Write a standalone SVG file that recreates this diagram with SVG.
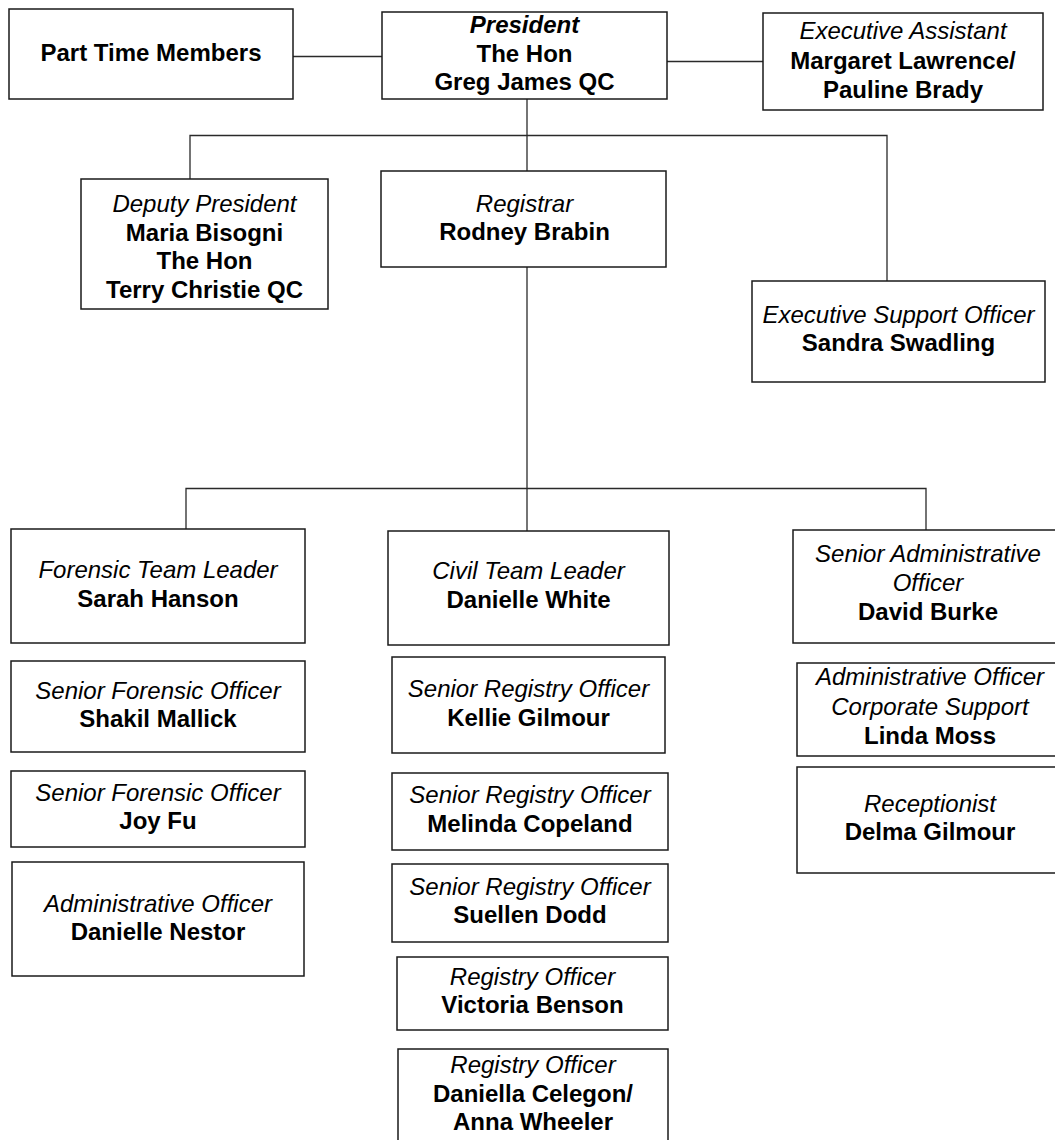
<svg xmlns="http://www.w3.org/2000/svg" width="1055" height="1140" viewBox="0 0 1055 1140">
<style>
.box{fill:#fff;stroke:#1a1a1a;stroke-width:1.5}
.ln{fill:none;stroke:#2a2a2a;stroke-width:1.3}
text{font-family:"Liberation Sans",Arial,Helvetica,sans-serif;font-size:24px;text-anchor:middle;fill:#000}
.b{font-weight:bold}
.i{font-style:italic}
</style>
<rect width="1055" height="1140" fill="#fff"/>
<g id="connectors">
<line class="ln" x1="293" y1="56.5" x2="382" y2="56.5"/>
<line class="ln" x1="667" y1="61.5" x2="763" y2="61.5"/>
<line class="ln" x1="527" y1="99" x2="527" y2="171"/>
<polyline class="ln" points="190,179 190,135.5 887,135.5 887,281"/>
<line class="ln" x1="527" y1="267" x2="527" y2="531"/>
<polyline class="ln" points="186,529 186,488.5 926,488.5 926,530"/>
</g>
<g id="part-time">
<rect class="box" x="9" y="9" width="284" height="90"/>
<text class="b" x="151" y="61">Part Time Members</text>
</g>
<g id="president">
<rect class="box" x="382" y="12" width="285" height="87"/>
<text class="b i" x="524.5" y="33">President</text>
<text class="b" x="524.5" y="62">The Hon</text>
<text class="b" x="524.5" y="90">Greg James QC</text>
</g>
<g id="executive-assistant">
<rect class="box" x="763" y="13" width="280" height="97"/>
<text class="i" x="903" y="39">Executive Assistant</text>
<text class="b" x="903" y="68.5">Margaret Lawrence/</text>
<text class="b" x="903" y="98">Pauline Brady</text>
</g>
<g id="deputy-president">
<rect class="box" x="81" y="179" width="247" height="130"/>
<text class="i" x="204.5" y="212">Deputy President</text>
<text class="b" x="204.5" y="240.5">Maria Bisogni</text>
<text class="b" x="204.5" y="269">The Hon</text>
<text class="b" x="204.5" y="297.5">Terry Christie QC</text>
</g>
<g id="registrar">
<rect class="box" x="381" y="171" width="285" height="96"/>
<text class="i" x="524.5" y="212">Registrar</text>
<text class="b" x="524.5" y="240">Rodney Brabin</text>
</g>
<g id="executive-support">
<rect class="box" x="752" y="281" width="293" height="101"/>
<text class="i" x="898.5" y="323">Executive Support Officer</text>
<text class="b" x="898.5" y="351">Sandra Swadling</text>
</g>
<g id="forensic-team-leader">
<rect class="box" x="11" y="529" width="294" height="114"/>
<text class="i" x="158" y="578">Forensic Team Leader</text>
<text class="b" x="158" y="607">Sarah Hanson</text>
</g>
<g id="civil-team-leader">
<rect class="box" x="388" y="531" width="281" height="114"/>
<text class="i" x="528.5" y="579">Civil Team Leader</text>
<text class="b" x="528.5" y="607.5">Danielle White</text>
</g>
<g id="senior-administrative-officer">
<rect class="box" x="793" y="530" width="270" height="113"/>
<text class="i" x="928" y="562">Senior Administrative</text>
<text class="i" x="928" y="591">Officer</text>
<text class="b" x="928" y="620">David Burke</text>
</g>
<g id="senior-forensic-1">
<rect class="box" x="11" y="661" width="294" height="91"/>
<text class="i" x="158" y="699">Senior Forensic Officer</text>
<text class="b" x="158" y="727">Shakil Mallick</text>
</g>
<g id="senior-forensic-2">
<rect class="box" x="11" y="771" width="294" height="76"/>
<text class="i" x="158" y="801">Senior Forensic Officer</text>
<text class="b" x="158" y="829">Joy Fu</text>
</g>
<g id="administrative-officer-forensic">
<rect class="box" x="12" y="862" width="292" height="114"/>
<text class="i" x="158" y="912">Administrative Officer</text>
<text class="b" x="158" y="940">Danielle Nestor</text>
</g>
<g id="senior-registry-1">
<rect class="box" x="392" y="657" width="273" height="96"/>
<text class="i" x="528.5" y="697">Senior Registry Officer</text>
<text class="b" x="528.5" y="726">Kellie Gilmour</text>
</g>
<g id="senior-registry-2">
<rect class="box" x="392" y="773" width="276" height="77"/>
<text class="i" x="530" y="803">Senior Registry Officer</text>
<text class="b" x="530" y="832">Melinda Copeland</text>
</g>
<g id="senior-registry-3">
<rect class="box" x="392" y="864" width="276" height="78"/>
<text class="i" x="530" y="895">Senior Registry Officer</text>
<text class="b" x="530" y="923">Suellen Dodd</text>
</g>
<g id="registry-officer-1">
<rect class="box" x="397" y="957" width="271" height="73"/>
<text class="i" x="532.5" y="985">Registry Officer</text>
<text class="b" x="532.5" y="1013">Victoria Benson</text>
</g>
<g id="registry-officer-2">
<rect class="box" x="398" y="1049" width="270" height="100"/>
<text class="i" x="533" y="1073">Registry Officer</text>
<text class="b" x="533" y="1102">Daniella Celegon/</text>
<text class="b" x="533" y="1130">Anna Wheeler</text>
</g>
<g id="administrative-officer-corporate">
<rect class="box" x="797" y="663" width="266" height="93"/>
<text class="i" x="930" y="685">Administrative Officer</text>
<text class="i" x="930" y="715">Corporate Support</text>
<text class="b" x="930" y="744">Linda Moss</text>
</g>
<g id="receptionist">
<rect class="box" x="797" y="767" width="266" height="106"/>
<text class="i" x="930" y="812">Receptionist</text>
<text class="b" x="930" y="840">Delma Gilmour</text>
</g>
</svg>
